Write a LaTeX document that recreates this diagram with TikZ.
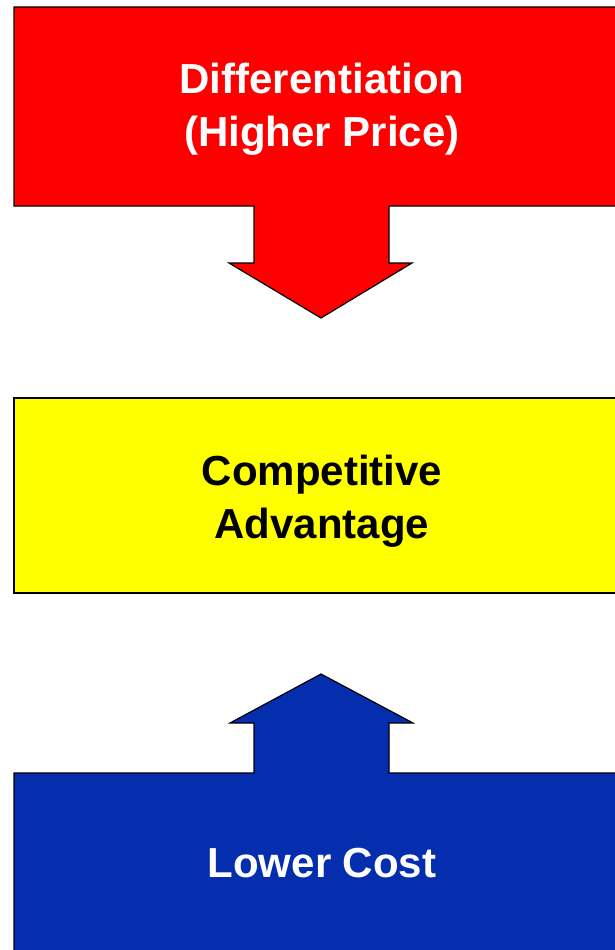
\documentclass[tikz,border=0pt]{standalone}
\usepackage{fontspec}
\setmainfont{Liberation Sans}
\usepackage{tikz}
\usetikzlibrary{positioning}

\definecolor{diffred}{RGB}{255,0,0}
\definecolor{advyellow}{RGB}{255,255,0}
\definecolor{costblue}{RGB}{4,46,174}

\begin{document}
\begin{tikzpicture}[
            x=1pt, y=-1pt, % pixel units, y pointing down
            blockshape/.style={draw=black, line width=1.2pt, line join=miter}, % Outlined block
            blocktext/.style={font=\fontsize{42}{53}\selectfont\bfseries, align=center} % Bold text
            ]

                \useasboundingbox (0,0) rectangle (615,950);
                \clip (0,0) rectangle (615,950);

                % Top block with arrow pointing down
                \draw[blockshape, fill=diffred] (14,7) -- (640,7) -- (640,206) -- (389,206) -- (389,263)
                    -- (412,263) -- (321,318) -- (229,263) -- (254,263) -- (254,206) -- (14,206) -- cycle;

                % Middle block
                \draw[blockshape, fill=advyellow] (14,398) rectangle (640,593);

                % Bottom block with arrow pointing up
                \draw[blockshape, fill=costblue] (14,960) -- (14,773) -- (254,773) -- (254,723) -- (230,723)
                    -- (321,674) -- (413,723) -- (389,723) -- (389,773) -- (640,773) -- (640,960) -- cycle;

                % Texts
                \node[blocktext, text=white] (diff) at (322,109) {Differentiation\\(Higher Price)};
                \node[blocktext, text=black] (adv) at (322,501) {Competitive\\Advantage};
                \node[blocktext, text=white] (cost) at (322,863) {Lower Cost};

            \end{tikzpicture}
\end{document}
